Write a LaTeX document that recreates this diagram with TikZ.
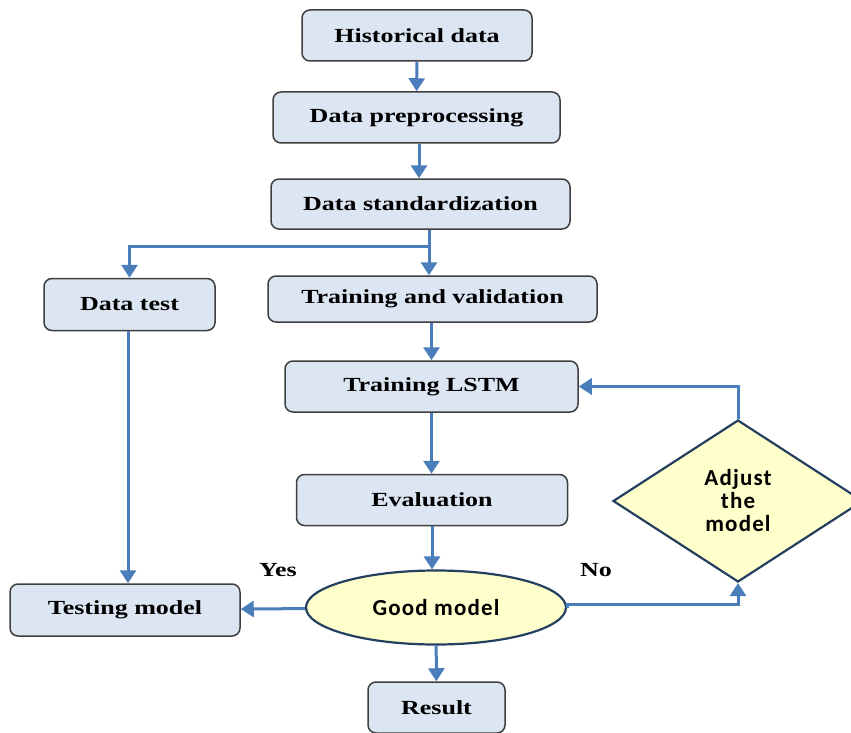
\documentclass[tikz,border=0pt]{standalone}
\usepackage{fontspec}
\setmainfont{Liberation Serif}[FakeStretch=1.3]
\newfontfamily\sansbold{Carlito}[LetterSpace=5]
\usetikzlibrary{shapes.geometric,arrows.meta}
\definecolor{boxfill}{HTML}{DCE6F2}
\definecolor{boxline}{HTML}{3F3F3F}
\definecolor{arrowc}{HTML}{4A7EBB}
\definecolor{yel}{HTML}{FFFFCC}
\definecolor{navy}{HTML}{243F60}
\tikzset{
  procbox/.style={draw=boxline, line width=1.5pt, fill=boxfill, rounded corners=8pt,
    inner sep=0pt, font=\fontsize{20}{22}\selectfont\bfseries},
  flow/.style={draw=arrowc, line width=3pt, -{Triangle[width=16pt,length=13pt]}},
  lbl/.style={font=\fontsize{20}{22}\selectfont\bfseries, inner sep=0pt},
  yshape/.style={draw=navy, line width=2.2pt, fill=yel, inner sep=0pt,
    font=\fontsize{23}{23}\sansbold\bfseries},
}
\begin{document}
\begin{tikzpicture}[x=1pt,y=-1pt]
\useasboundingbox (0,0) rectangle (851,733);
\node[procbox, minimum width=230, minimum height=51] (hist) at (417,35.5) {Historical data};
\node[procbox, minimum width=287, minimum height=51] (prep) at (416.5,117.5) {Data preprocessing};
\node[procbox, minimum width=299, minimum height=50] (std) at (420.5,204) {Data standardization};
\node[procbox, minimum width=171, minimum height=52] (dtest) at (129.5,304.5) {Data test};
\node[procbox, minimum width=329, minimum height=46] (tv) at (432.5,299) {Training and validation};
\node[procbox, minimum width=293, minimum height=51] (lstm) at (431.5,386.5) {\raisebox{3pt}{Training LSTM}};
\node[procbox, minimum width=271, minimum height=51] (eval) at (432,500) {Evaluation};
\node[yshape, ellipse, minimum width=260, minimum height=74] (good) at (436,607.5) {Good model};
\node[procbox, minimum width=230, minimum height=52] (test) at (125,610) {Testing model};
\node[procbox, minimum width=137, minimum height=51] (res) at (436.5,707.5) {Result};
\node[yshape, diamond, minimum width=250, minimum height=162, align=center] (adj) at (738,501) {Adjust\\the\\model};
\node[lbl] (yes) at (278,570) {Yes};
\node[lbl] (no) at (596,570) {No};
\draw[flow] (hist) -- (prep);
\draw[flow] (prep.south -| 419,0) -- (std.north -| 419,0);
\coordinate (split) at (429,246);
\draw[flow] (std.south -| split) -- (tv.north -| split);
\draw[flow] (split) -| (dtest.north);
\draw[flow] (tv.south -| lstm.north) -- (lstm.north);
\draw[flow] (lstm.south -| 431.5,0) -- (eval.north -| 431.5,0);
\draw[flow] (eval) -- (good.north -| eval.south);
\draw[flow] (good) -- (test);
\draw[flow] (dtest.south -| 128,0) -- (test.north -| 128,0);
\draw[flow] (good) -- (res);
\draw[flow] (good.east) -- ++(0,-3) -| (adj.south);
\draw[flow] (adj.north) |- (lstm.east);
\end{tikzpicture}
\end{document}
